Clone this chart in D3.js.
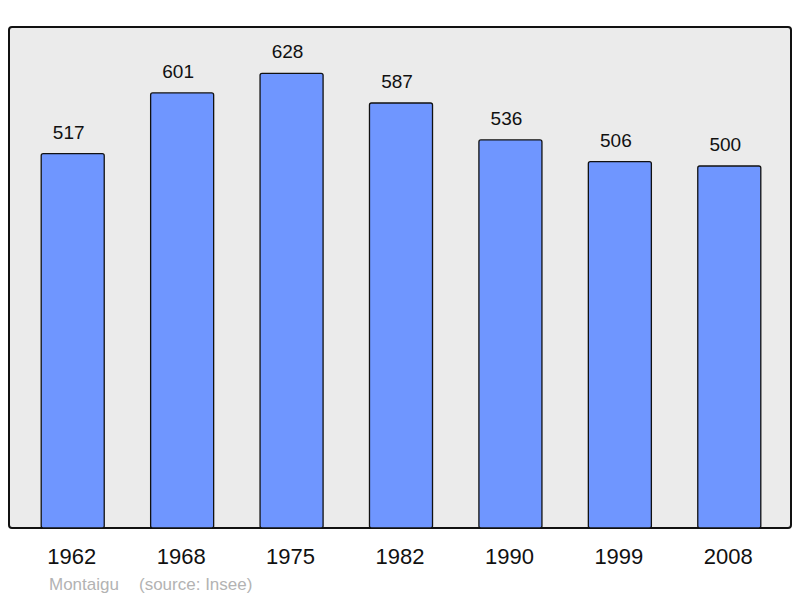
<!DOCTYPE html>
<html><head><meta charset="utf-8">
<script src="https://cdn.jsdelivr.net/npm/d3@7"></script>
<style>body{margin:0;background:#fff}svg{display:block;font-family:"Liberation Sans",Arial,sans-serif}</style>
</head><body><svg id="c" width="800" height="598"></svg>
<script>
const years = ["1962","1968","1975","1982","1990","1999","2008"];
const population = [517,601,628,587,536,506,500];
const place = "Montaigu";
const source = "(source: Insee)";

const svg = d3.select("#c");
const panel = {x0:9, y0:27, x1:791, y1:528};
svg.append("rect").attr("x",panel.x0).attr("y",panel.y0)
  .attr("width",panel.x1-panel.x0).attr("height",panel.y1-panel.y0)
  .attr("rx",3).attr("fill","#ebebeb").attr("stroke","#111").attr("stroke-width",2);

const x = d3.scaleBand().domain(years).range([18,784]).paddingInner(0.424).paddingOuter(0.212);
const y = d3.scaleLinear().domain([0,692]).range([panel.y1, panel.y0]);

svg.selectAll("rect.bar").data(population).join("rect").attr("class","bar")
  .attr("x",(d,i)=>x(years[i])).attr("y",d=>y(d))
  .attr("width",x.bandwidth()).attr("height",d=>panel.y1-y(d))
  .attr("rx",2).attr("fill","#6f96ff").attr("stroke","#111").attr("stroke-width",1.3);

svg.selectAll("text.val").data(population).join("text").attr("class","val")
  .attr("x",(d,i)=>x(years[i])+x.bandwidth()/2-4).attr("y",d=>y(d)-15)
  .attr("text-anchor","middle").attr("font-size",19).attr("fill","#111").text(d=>d);

const ax = svg.append("g").attr("transform",`translate(0,${panel.y1})`)
  .call(d3.axisBottom(x).tickSize(0).tickPadding(0));
ax.select(".domain").remove();
ax.selectAll("text").attr("font-size",22).attr("fill","#111")
  .attr("font-family","Liberation Sans, Arial, sans-serif").attr("dy",null).attr("y",36)
  .attr("dx",-1);

svg.append("text").attr("x",49).attr("y",590).attr("font-size",17).attr("fill","#b3b3b3").text(place);
svg.append("text").attr("x",139).attr("y",590).attr("font-size",17).attr("fill","#b3b3b3").text(source);
</script></body></html>
